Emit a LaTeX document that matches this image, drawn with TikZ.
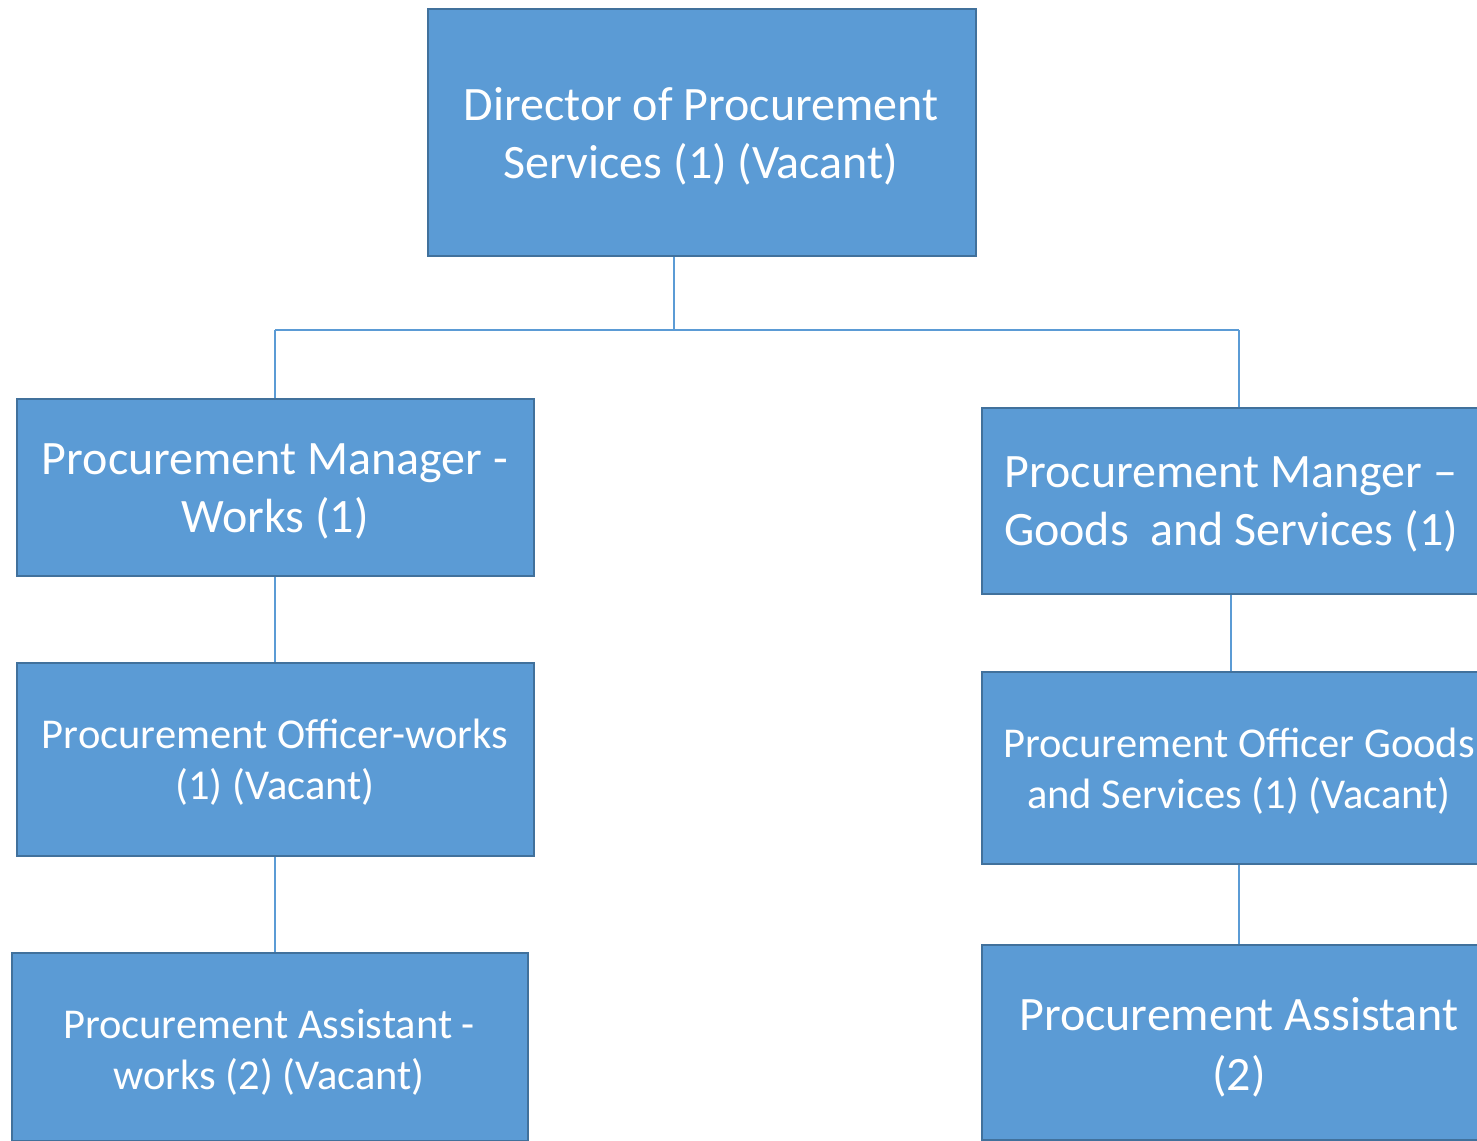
\documentclass[tikz,border=0pt]{standalone}
\usepackage{fontspec}
\setmainfont{Carlito}
\definecolor{boxfill}{HTML}{5B9BD5}
\definecolor{boxline}{HTML}{41719C}
\definecolor{conn}{HTML}{5B9BD5}
\begin{document}
\begin{tikzpicture}[x=1pt,y=-1pt,
  box/.style={draw=boxline, line width=2.2pt, fill=boxfill, text=white, align=center, inner sep=0pt, anchor=north west},
  txt/.style={text=white, align=center, inner sep=0pt},
  big/.style={font=\fontsize{48}{58}\selectfont},
  small/.style={font=\fontsize{42.5}{51}\selectfont},
  conn/.style={draw=conn, line width=1.2pt}]
\clip (0,0) rectangle (1477,1140);
\fill[white] (0,0) rectangle (1477,1140);
% boxes
\node[box, minimum width=548pt, minimum height=247pt] (dir) at (427,8) {};
\node[box, minimum width=517pt, minimum height=177pt] (pmw) at (16,398) {};
\node[box, minimum width=517pt, minimum height=193pt] (pow) at (16,662) {};
\node[box, minimum width=516pt, minimum height=188pt] (paw) at (11,952) {};
\node[box, minimum width=516pt, minimum height=186pt] (pmg) at (981,407) {};
\node[box, minimum width=516pt, minimum height=192pt] (pog) at (981,671) {};
\node[box, minimum width=516pt, minimum height=195pt] (pag) at (981,944) {};
% texts
\node[txt, big] (tdir) at (701,136) {Director of Procurement\\Services (1) (Vacant)};
\node[txt, big] (tpmw) at (275,491) {Procurement Manager -\\Works (1)};
\node[txt, small] (tpow) at (275,762) {Procurement Officer-works\\(1) (Vacant)};
\node[txt, small] (tpaw) at (269,1052) {Procurement Assistant -\\works (2) (Vacant)};
\node[txt, big] (tpmg) at (1231,504) {Procurement Manger –\\Goods\ \ and Services (1)};
\node[txt, small] (tpog) at (1239,771) {Procurement Officer Goods\\and Services (1) (Vacant)};
\node[txt, big, font=\fontsize{48}{60}\selectfont] (tpag) at (1239,1047) {Procurement Assistant\\(2)};
% connectors
\coordinate (jm) at (674,330);
\coordinate (jl) at (275,330);
\coordinate (jr) at (1239,330);
\coordinate (cg) at (1231,0);
\draw[conn] (dir.south -| jm) -- (jm);
\draw[conn] (jl) -- (jr);
\draw[conn] (jl) -- (pmw.north -| jl);
\draw[conn] (jr) -- (pmg.north -| jr);
\draw[conn] (pmw.south -| jl) -- (pow.north -| jl);
\draw[conn] (pow.south -| jl) -- (paw.north -| jl);
\draw[conn] (pmg.south -| cg) -- (pog.north -| cg);
\draw[conn] (pog.south -| jr) -- (pag.north -| jr);
\end{tikzpicture}
\end{document}
